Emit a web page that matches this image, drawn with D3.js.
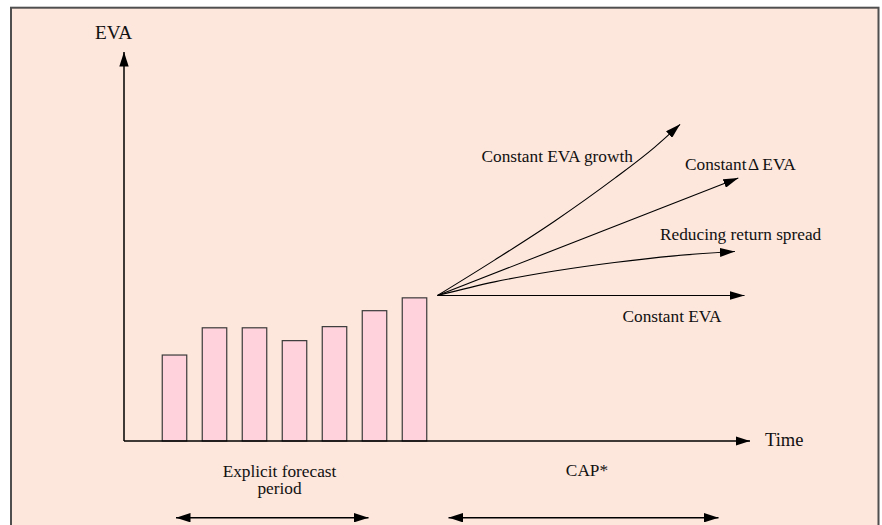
<!DOCTYPE html>
<html>
<head>
<meta charset="utf-8">
<script src="https://cdn.jsdelivr.net/npm/d3@7/dist/d3.min.js"></script>
<style>
  html, body { margin: 0; padding: 0; background: #ffffff; }
  svg { display: block; }
  text { font-family: "Liberation Serif", "Times New Roman", serif; fill: #111; }
</style>
</head>
<body>
<svg id="chart" width="882" height="525"></svg>
<script>
// ---- data ----
const periods = [1, 2, 3, 4, 5, 6, 7];
const evaValues = [22.1, 29.1, 29.1, 25.8, 29.4, 33.5, 36.8];

const growthT = [7.575, 9.0, 10.5, 12.0, 13.0, 13.64];
const growthV = [37.4, 46.5, 56.5, 67.5, 75.5, 81.4];
const deltaT = [7.575, 15.095];
const deltaV = [37.4, 67.6];
const reducingT = [7.575, 9.0, 10.5, 12.0, 13.5, 15.01];
const reducingV = [37.4, 40.9, 43.7, 45.9, 47.6, 48.7];
const constantT = [7.575, 15.25];
const constantV = [37.4, 37.4];

const scenarioNames = ["Constant EVA growth", "Constant\u200AΔ EVA", "Reducing return spread", "Constant EVA"];
const axisLabels = ["EVA", "Time"];
const periodLabels = [["Explicit forecast", "period"], ["CAP*"]];

// ---- layout ----
const svg = d3.select("#chart");
const x = d3.scaleLinear().domain([1, 7]).range([174.5, 414.5]);
const y = d3.scaleLinear().domain([0, 100]).range([441, 52]);

const originX = 124, axisEndX = 750;

// background frame
svg.append("rect")
  .attr("x", 11).attr("y", 7.7).attr("width", 867.5).attr("height", 540)
  .attr("fill", "#fde6dc").attr("stroke", "#4f4f4f").attr("stroke-width", 2);

// markers
const defs = svg.append("defs");
function marker(id, len, half) {
  defs.append("marker")
    .attr("id", id).attr("markerUnits", "userSpaceOnUse")
    .attr("viewBox", `0 ${-half} ${len} ${2 * half}`)
    .attr("refX", len).attr("refY", 0)
    .attr("markerWidth", len).attr("markerHeight", 2 * half)
    .attr("orient", "auto-start-reverse")
    .append("path").attr("d", `M0,${-half}L${len},0L0,${half}Z`).attr("fill", "#000");
}
marker("arrow", 14.5, 4.7);
marker("arrowSmall", 15, 4.5);

// bars
svg.append("g").selectAll("rect").data(periods).join("rect")
  .attr("x", d => x(d) - 12.25)
  .attr("y", (d, i) => y(evaValues[i]))
  .attr("width", 24.5)
  .attr("height", (d, i) => y(0) - y(evaValues[i]))
  .attr("fill", "#ffd2dc").attr("stroke", "#3a3a3a").attr("stroke-width", 1.2);

// axes
svg.append("line")
  .attr("x1", originX).attr("y1", y(0)).attr("x2", originX).attr("y2", y(100))
  .attr("stroke", "#000").attr("stroke-width", 1.5).attr("marker-end", "url(#arrow)");
svg.append("line")
  .attr("x1", originX).attr("y1", y(0)).attr("x2", axisEndX).attr("y2", y(0))
  .attr("stroke", "#000").attr("stroke-width", 1.5).attr("marker-end", "url(#arrow)");

// scenario lines
const line = d3.line().x(d => x(d[0])).y(d => y(d[1])).curve(d3.curveMonotoneX);
const series = [
  [growthT, growthV], [deltaT, deltaV], [reducingT, reducingV], [constantT, constantV]
];
svg.append("g").selectAll("path").data(series).join("path")
  .attr("d", s => line(s[0].map((t, i) => [t, s[1][i]])))
  .attr("fill", "none").attr("stroke", "#000").attr("stroke-width", 1.1)
  .attr("marker-end", "url(#arrowSmall)");

// scenario labels
const labelPos = [[481.5, 161.5], [685, 169.5], [660, 240], [622.5, 321.5]];
svg.append("g").selectAll("text").data(scenarioNames).join("text")
  .attr("x", (d, i) => labelPos[i][0]).attr("y", (d, i) => labelPos[i][1])
  .attr("font-size", 17.3).text(d => d);

// axis labels
svg.append("text").attr("x", 95).attr("y", 39).attr("font-size", 19.3).text(axisLabels[0]);
svg.append("text").attr("x", 765).attr("y", 446).attr("font-size", 18.5).text(axisLabels[1]);

// period labels
svg.append("text").attr("x", 279.5).attr("y", 476.5).attr("text-anchor", "middle")
  .attr("font-size", 17.3).text(periodLabels[0][0]);
svg.append("text").attr("x", 279.5).attr("y", 494).attr("text-anchor", "middle")
  .attr("font-size", 17.3).text(periodLabels[0][1]);
svg.append("text").attr("x", 587).attr("y", 475.5).attr("text-anchor", "middle")
  .attr("font-size", 17.3).text(periodLabels[1][0]);

// period double arrows
[[176, 368.5], [448.5, 718.5]].forEach(([a, b]) => {
  svg.append("line").attr("x1", a).attr("y1", 517.7).attr("x2", b).attr("y2", 517.7)
    .attr("stroke", "#000").attr("stroke-width", 1.5)
    .attr("marker-start", "url(#arrow)").attr("marker-end", "url(#arrow)");
});
</script>
</body>
</html>
